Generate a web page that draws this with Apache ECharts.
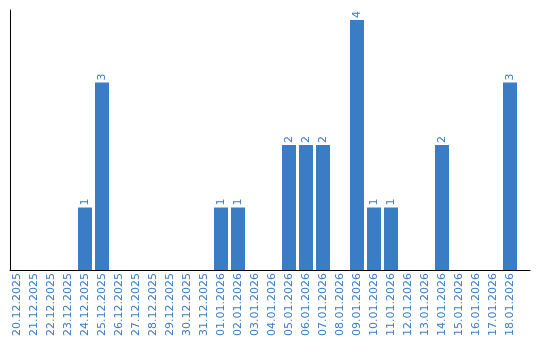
<!DOCTYPE html>
<html>
<head>
<meta charset="utf-8">
<script src="https://cdn.jsdelivr.net/npm/echarts@6/dist/echarts.min.js"></script>
<style>html,body{margin:0;padding:0;background:#fff}#c{width:540px;height:340px}</style>
</head>
<body>
<div id="c"></div>
<script>
const categories = ['20.12.2025','21.12.2025','22.12.2025','23.12.2025','24.12.2025','25.12.2025','26.12.2025','27.12.2025','28.12.2025','29.12.2025','30.12.2025','31.12.2025','01.01.2026','02.01.2026','03.01.2026','04.01.2026','05.01.2026','06.01.2026','07.01.2026','08.01.2026','09.01.2026','10.01.2026','11.01.2026','12.01.2026','13.01.2026','14.01.2026','15.01.2026','16.01.2026','17.01.2026','18.01.2026'];
const values = [0,0,0,0,1,3,0,0,0,0,0,0,1,1,0,0,2,2,2,0,4,1,1,0,0,2,0,0,0,3];

const blue = '#3b7dc4';
const chart = echarts.init(document.getElementById('c'), null, {renderer:'canvas'});
chart.setOption({
  animation: false,
  grid: [
    {left: 10, top: 10, width: 520, height: 260},
    {left: 8.5, top: 10, width: 510, height: 260}
  ],
  xAxis: [
    {gridIndex: 0, type: 'value', min: 0, max: 1, axisLine: {show: true, lineStyle: {color: '#000', width: 1}}, axisTick: {show: false}, axisLabel: {show: false}, splitLine: {show: false}},
    {gridIndex: 1, type: 'category', data: categories, boundaryGap: true,
     axisLine: {show: false}, axisTick: {show: false}, splitLine: {show: false},
     axisLabel: {interval: 0, rotate: 90, color: blue, fontFamily: 'DejaVu Sans', fontSize: 11, margin: 3}}
  ],
  yAxis: [
    {gridIndex: 0, type: 'value', min: 0, max: 4.16, axisLine: {show: true, lineStyle: {color: '#000', width: 1}}, axisTick: {show: false}, axisLabel: {show: false}, splitLine: {show: false}},
    {gridIndex: 1, type: 'value', min: 0, max: 4.16, axisLine: {show: false}, axisTick: {show: false}, axisLabel: {show: false}, splitLine: {show: false}}
  ],
  series: [{
    type: 'bar', xAxisIndex: 1, yAxisIndex: 1,
    data: values.map(v => v === 0 ? {value: 0, label: {show: false}} : v),
    barWidth: 14,
    itemStyle: {color: blue},
    label: {show: true, position: 'top', rotate: 90, align: 'left', verticalAlign: 'middle', distance: 2,
            color: blue, fontFamily: 'DejaVu Sans', fontSize: 11}
  }]
});
</script>
</body>
</html>
